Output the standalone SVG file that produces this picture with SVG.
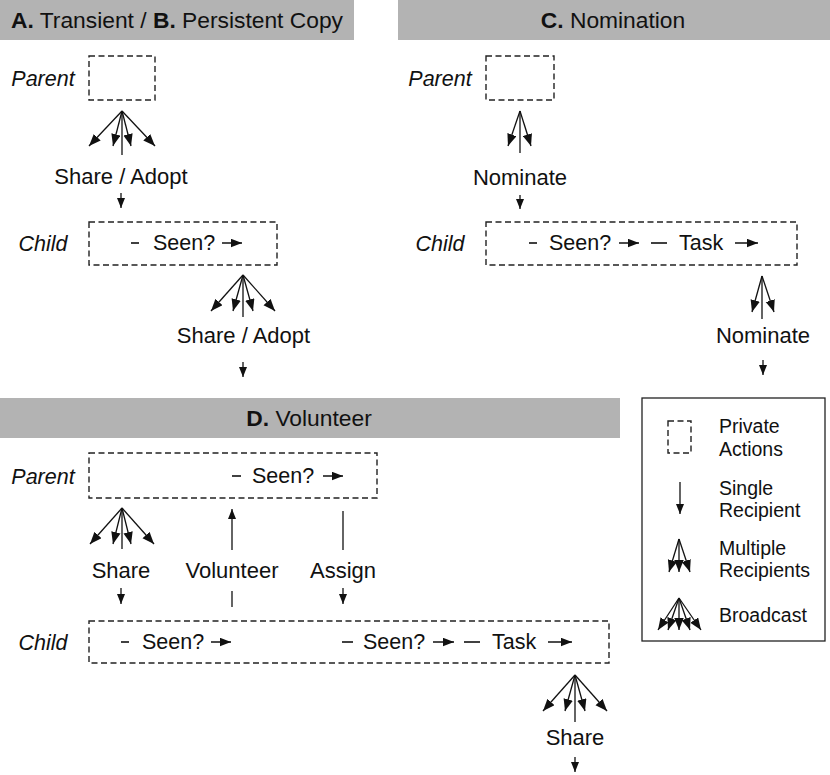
<svg xmlns="http://www.w3.org/2000/svg" width="830" height="775" viewBox="0 0 830 775">
<style>
text{font-family:"Liberation Sans",Arial,Helvetica,sans-serif;fill:#111}
.hdr{font-size:22.8px}
.lbl{font-size:22px}
.in{font-size:21.5px}
.role{font-size:21.5px;font-style:italic}
.leg{font-size:19.5px}
.bar{fill:#b3b3b3}
.box{fill:none;stroke:#222;stroke-width:1.4;stroke-dasharray:6 3.5}
.ln{stroke:#111;stroke-width:1.3;fill:none}
.dash{stroke:#111;stroke-width:1.6;fill:none}
.fan{stroke:#111;stroke-width:1.3;fill:none;marker-end:url(#big)}
.one{stroke:#111;stroke-width:1.3;fill:none;marker-end:url(#small)}
.inl{stroke:#111;stroke-width:1.5;fill:none;marker-end:url(#inl)}
.mid{text-anchor:middle}
</style>
<defs>
<marker id="big" markerUnits="userSpaceOnUse" markerWidth="13" markerHeight="10" refX="12" refY="4.75" orient="auto"><path d="M0,0 L12,4.75 L0,9.5 z" fill="#111"/></marker>
<marker id="small" markerUnits="userSpaceOnUse" markerWidth="11" markerHeight="9" refX="10" refY="4" orient="auto"><path d="M0,0 L10,4 L0,8 z" fill="#111"/></marker>
<marker id="inl" markerUnits="userSpaceOnUse" markerWidth="12" markerHeight="9" refX="11" refY="4.25" orient="auto"><path d="M0,0 L11,4.25 L0,8.5 z" fill="#111"/></marker>
</defs>

<g id="header-AB">
<rect class="bar" x="0" y="0" width="354" height="40"/>
<text class="hdr" x="11" y="28"><tspan font-weight="bold">A.</tspan> Transient / <tspan font-weight="bold">B.</tspan> Persistent Copy</text>
</g>
<g id="header-C">
<rect class="bar" x="398" y="0" width="432" height="40"/>
<text class="hdr mid" x="613" y="28"><tspan font-weight="bold">C.</tspan> Nomination</text>
</g>
<g id="header-D">
<rect class="bar" x="0" y="398" width="620" height="40"/>
<text class="hdr mid" x="309" y="426"><tspan font-weight="bold">D.</tspan> Volunteer</text>
</g>

<!-- Panel A/B -->
<g id="parent-A">
<text class="role mid" x="43" y="86">Parent</text>
<rect class="box" x="89" y="56" width="66" height="44"/>
</g>
<g id="child-A">
<text class="role mid" x="43" y="251">Child</text>
<rect class="box" x="89" y="222" width="188" height="43"/>
<line class="dash" x1="131" y1="243" x2="139" y2="243"/>
<text class="in" x="153" y="250">Seen?</text>
<line class="inl" x1="222" y1="243" x2="242" y2="243"/>
</g>

<!-- Panel C -->
<g id="parent-C">
<text class="role mid" x="440" y="86">Parent</text>
<rect class="box" x="486" y="56" width="68" height="44"/>
</g>
<g id="child-C">
<text class="role mid" x="440" y="251">Child</text>
<rect class="box" x="486" y="222" width="311" height="43"/>
<line class="dash" x1="529" y1="243" x2="537" y2="243"/>
<text class="in" x="549" y="250">Seen?</text>
<line class="inl" x1="619" y1="243" x2="639" y2="243"/>
<line class="dash" x1="651" y1="243" x2="667" y2="243"/>
<text class="in" x="679" y="250">Task</text>
<line class="inl" x1="735" y1="243" x2="758" y2="243"/>
</g>

<!-- Panel D -->
<g id="parent-D">
<text class="role mid" x="43" y="484">Parent</text>
<rect class="box" x="89" y="453" width="288" height="45"/>
<line class="dash" x1="232" y1="476" x2="241" y2="476"/>
<text class="in" x="252" y="483">Seen?</text>
<line class="inl" x1="323" y1="476" x2="343" y2="476"/>
</g>
<g id="child-D">
<text class="role mid" x="43" y="650">Child</text>
<rect class="box" x="89" y="621" width="520" height="42"/>
<line class="dash" x1="121" y1="642" x2="129" y2="642"/>
<text class="in" x="142" y="649">Seen?</text>
<line class="inl" x1="211" y1="642" x2="231" y2="642"/>
<line class="dash" x1="342" y1="642" x2="353" y2="642"/>
<text class="in" x="363" y="649">Seen?</text>
<line class="inl" x1="433" y1="642" x2="454" y2="642"/>
<line class="dash" x1="464" y1="642" x2="480" y2="642"/>
<text class="in" x="492" y="649">Task</text>
<line class="inl" x1="548" y1="642" x2="572" y2="642"/>
</g>

<g id="connectors">
<g id="fan-A1">
<line class="fan" x1="122" y1="111" x2="89" y2="146"/>
<line class="fan" x1="122" y1="111" x2="113" y2="146"/>
<line class="fan" x1="122" y1="111" x2="131" y2="146"/>
<line class="fan" x1="122" y1="111" x2="155" y2="146"/>
<line class="ln" x1="122" y1="111" x2="122" y2="155"/>
<text class="lbl mid" x="121" y="184">Share / Adopt</text>
<line class="one" x1="121" y1="193" x2="121" y2="208"/>
</g>
<g id="fan-A2">
<line class="fan" x1="243" y1="275" x2="211" y2="311"/>
<line class="fan" x1="243" y1="275" x2="233" y2="311"/>
<line class="fan" x1="243" y1="275" x2="253" y2="311"/>
<line class="fan" x1="243" y1="275" x2="275" y2="311"/>
<line class="ln" x1="243" y1="275" x2="243" y2="317"/>
<text class="lbl mid" x="243.5" y="343">Share / Adopt</text>
<line class="one" x1="243" y1="362" x2="243" y2="377"/>
</g>
<g id="fan-C1">
<line class="fan" x1="520" y1="111" x2="508" y2="146"/>
<line class="fan" x1="520" y1="111" x2="531" y2="146"/>
<line class="ln" x1="520" y1="111" x2="520" y2="153"/>
<text class="lbl mid" x="520" y="185">Nominate</text>
<line class="one" x1="520" y1="195" x2="520" y2="209"/>
</g>
<g id="fan-C2">
<line class="fan" x1="762" y1="276" x2="752" y2="312"/>
<line class="fan" x1="762" y1="276" x2="774" y2="312"/>
<line class="ln" x1="762" y1="276" x2="762" y2="319"/>
<text class="lbl mid" x="763" y="343">Nominate</text>
<line class="one" x1="763" y1="360" x2="763" y2="375"/>
</g>
<g id="fan-D1">
<line class="fan" x1="122" y1="508" x2="90" y2="544"/>
<line class="fan" x1="122" y1="508" x2="113" y2="544"/>
<line class="fan" x1="122" y1="508" x2="131" y2="544"/>
<line class="fan" x1="122" y1="508" x2="154" y2="544"/>
<line class="ln" x1="122" y1="508" x2="122" y2="549"/>
<text class="lbl mid" x="121" y="578">Share</text>
<line class="one" x1="121" y1="588" x2="121" y2="604"/>
</g>
<g id="volunteer">
<line class="one" x1="232" y1="550" x2="232" y2="509"/>
<text class="lbl mid" x="232" y="578">Volunteer</text>
<line class="ln" x1="232" y1="591" x2="232" y2="607"/>
</g>
<g id="assign">
<line class="ln" x1="343" y1="511" x2="343" y2="550"/>
<text class="lbl mid" x="343" y="578">Assign</text>
<line class="one" x1="343" y1="588" x2="343" y2="604"/>
</g>
<g id="fan-D2">
<line class="fan" x1="575" y1="675" x2="543" y2="711"/>
<line class="fan" x1="575" y1="675" x2="565" y2="711"/>
<line class="fan" x1="575" y1="675" x2="585" y2="711"/>
<line class="fan" x1="575" y1="675" x2="607" y2="711"/>
<line class="ln" x1="575" y1="675" x2="575" y2="722"/>
<text class="lbl mid" x="575" y="745">Share</text>
<line class="one" x1="575" y1="757" x2="575" y2="772"/>
</g>
</g>

<g id="legend">
<rect x="642" y="398" width="183" height="243" fill="#fff" stroke="#222" stroke-width="1.3"/>
<rect class="box" x="668" y="421" width="23" height="32"/>
<text class="leg" x="719" y="433">Private</text>
<text class="leg" x="719" y="456">Actions</text>
<line class="one" x1="680" y1="482" x2="680" y2="514"/>
<text class="leg" x="719" y="495">Single</text>
<text class="leg" x="719" y="517">Recipient</text>
<line class="fan" x1="679" y1="539" x2="669" y2="572"/>
<line class="fan" x1="679" y1="539" x2="679" y2="572"/>
<line class="fan" x1="679" y1="539" x2="690" y2="572"/>
<text class="leg" x="719" y="555">Multiple</text>
<text class="leg" x="719" y="577">Recipients</text>
<line class="fan" x1="679" y1="598" x2="658" y2="630"/>
<line class="fan" x1="679" y1="598" x2="668" y2="630"/>
<line class="fan" x1="679" y1="598" x2="679" y2="630"/>
<line class="fan" x1="679" y1="598" x2="690" y2="630"/>
<line class="fan" x1="679" y1="598" x2="701" y2="630"/>
<text class="leg" x="719" y="622">Broadcast</text>
</g>
</svg>
